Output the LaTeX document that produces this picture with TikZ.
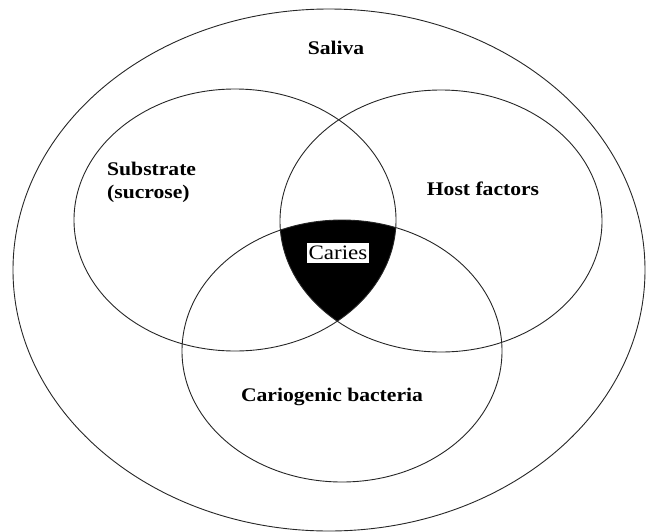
\documentclass[tikz,border=0pt]{standalone}
\usepackage{fontspec}
\setmainfont{Liberation Serif}[FakeStretch=1.12]
\begin{document}
\begin{tikzpicture}[x=1pt,y=-1pt,
  ring/.style={draw=black!85,line width=0.9pt},
  lbl/.style={font=\fontsize{19.3}{23}\selectfont\bfseries,inner sep=0pt},
  cbox/.style={draw=black,fill=white,line width=0.6pt,inner sep=0pt,minimum width=63pt,minimum height=21pt,font=\fontsize{20.5}{23}\selectfont}]
\useasboundingbox (0,0) rectangle (646,531);
% three-way intersection
\begin{scope}
  \clip (235,220) ellipse [x radius=161,y radius=131];
  \clip (441,221) ellipse [x radius=161,y radius=131];
  \fill[black] (342,351) ellipse [x radius=160,y radius=131];
\end{scope}
\draw[ring] (329,270) ellipse [x radius=316,y radius=261];
\draw[ring] (235,220) ellipse [x radius=161,y radius=131];
\draw[ring] (441,221) ellipse [x radius=161,y radius=131];
\draw[ring] (342,351) ellipse [x radius=160,y radius=131];
\node[lbl,anchor=base] (saliva) at (336,54) {Saliva};
\node[lbl,anchor=base west,align=left] (sub) at (107,198) {Substrate\\(sucrose)};
\node[lbl,anchor=base] (host) at (483,195) {Host factors};
\node[lbl,anchor=base] (bact) at (332,401) {Cariogenic bacteria};
\node[cbox] (caries) at (338,252.5) {Caries};
\end{tikzpicture}
\end{document}
